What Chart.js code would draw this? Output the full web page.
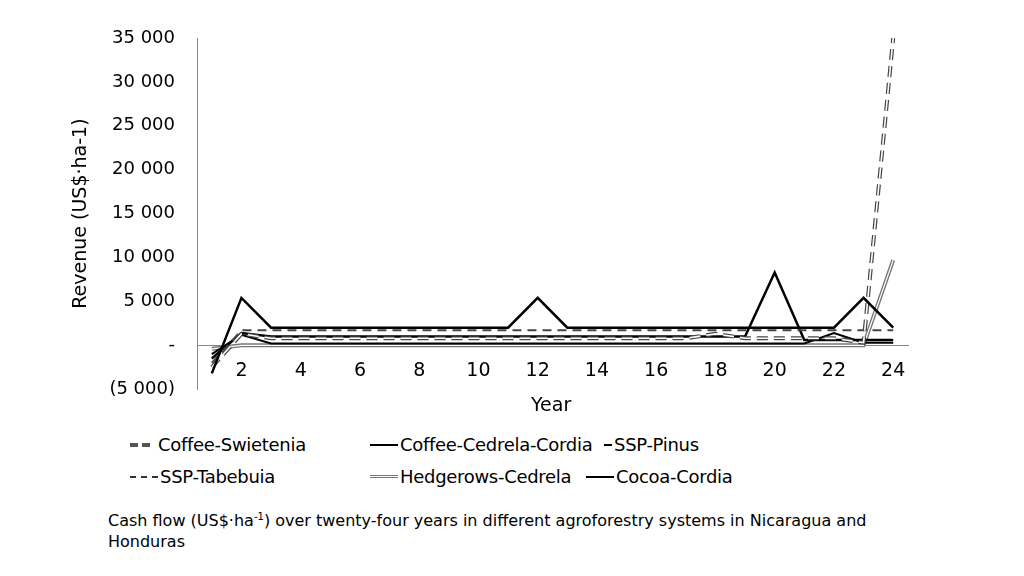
<!DOCTYPE html>
<html><head><meta charset="utf-8">
<script src="https://cdn.jsdelivr.net/npm/chart.js@4"></script>
<style>
body{margin:0;width:1024px;height:576px;background:#fff;font-family:"DejaVu Sans",Verdana,sans-serif;position:relative;overflow:hidden}
#wrap{position:absolute;left:70px;top:0;width:954px;height:414px}
.t{position:absolute;color:#000}
.lg{position:absolute;font-size:18px;display:flex;align-items:center;letter-spacing:-0.3px}
.sw{display:inline-block;width:28px;height:0;margin-right:2px}
</style></head><body>
<div id="wrap"><canvas id="c"></canvas></div>
<div class="t" style="left:531px;top:393px;font-size:19px">Year</div>
<div class="lg" style="left:130px;top:434px"><span class="sw" style="border-top:4px dashed #555;width:20px;margin-right:8px"></span>Coffee-Swietenia</div>
<div class="lg" style="left:370px;top:434px"><span class="sw" style="border-top:2px solid #000"></span>Coffee-Cedrela-Cordia</div>
<div class="lg" style="left:604px;top:434px"><span class="sw" style="border-top:2px solid #000;width:8px"></span>SSP-Pinus</div>
<div class="lg" style="left:130px;top:466px"><span class="sw" style="border-top:2px dashed #333"></span>SSP-Tabebuia</div>
<div class="lg" style="left:370px;top:466px"><span class="sw" style="border-top:3px double #777"></span>Hedgerows-Cedrela</div>
<div class="lg" style="left:586px;top:466px"><span class="sw" style="border-top:2px solid #000"></span>Cocoa-Cordia</div>
<div class="t" style="left:108px;top:506px;font-size:16px;line-height:21px;width:820px">Cash flow (US$·ha<sup style="font-size:10px">-1</sup>) over twenty-four years in different agroforestry systems in Nicaragua and Honduras</div>
<script>
const years = Array.from({length:24},(_, i)=>String(i+1));
const coffeeSwietenia = [-2500,1300,800,800,800,800,800,800,800,800,800,800,800,800,800,800,800,1300,800,800,800,800,300,35000];
const coffeeCedrelaCordia = [-3200,5400,2000,2000,2000,2000,2000,2000,2000,2000,2000,5400,2000,2000,2000,2000,2000,2000,2000,2000,2000,2000,5400,2000];
const sspPinus = [-1000,1200,200,200,200,200,200,200,200,200,200,200,200,200,200,200,200,200,200,200,200,1400,300,300];
const sspTabebuia = [-2000,1700,1700,1700,1700,1700,1700,1700,1700,1700,1700,1700,1700,1700,1700,1700,1700,1700,1700,1700,1700,1700,1700,1700];
const hedgerowsCedrela = [-400,0,0,0,0,0,0,0,0,0,0,0,0,0,0,0,0,0,0,0,0,0,0,9700];
const cocoaCordia = [-1500,1400,1000,1000,1000,1000,1000,1000,1000,1000,1000,1000,1000,1000,1000,1000,1000,1000,1000,8300,600,600,600,600];

// first dataset is painted last (on top)
const ds = (data,color,width,dash)=>({data,borderColor:color,borderWidth:width,borderDash:dash||[],pointRadius:0,fill:false,tension:0});
new Chart(document.getElementById('c'),{
  type:'line',
  data:{labels:years,datasets:[
    ds(coffeeCedrelaCordia,'#000',2.5),
    ds(coffeeSwietenia,'#fff',1.6,[11,6]),
    ds(coffeeSwietenia,'#444',4,[11,6]),
    ds(sspTabebuia,'#444',2,[9,6]),
    ds(cocoaCordia,'#000',2.5),
    ds(sspPinus,'#000',2),
    ds(hedgerowsCedrela,'#fff',1.2),
    ds(hedgerowsCedrela,'#777',4)
  ]},
  options:{
    responsive:true,maintainAspectRatio:false,animation:false,
    layout:{padding:{top:38,right:116,bottom:0,left:0}},
    plugins:{legend:{display:false},tooltip:{enabled:false}},
    scales:{
      x:{position:{y:0},offset:true,grid:{display:false,drawTicks:true},border:{color:'#888'},
        ticks:{color:'#000',font:{size:19,family:'DejaVu Sans'},maxRotation:0,autoSkip:false,padding:6,
          callback:(v,i)=>(i+1)%2===0?years[i]:''}},
      y:{min:-5000,max:35000,afterFit:s=>{s.width=127},
        grid:{display:false},border:{color:'#888'},
        ticks:{stepSize:5000,color:'#000',font:{size:18,family:'DejaVu Sans'},padding:14,
          callback:v=>v===0?'-':v<0?'('+Math.abs(v).toLocaleString('en').replace(',',' ')+')':v.toLocaleString('en').replace(',',' ')},
        title:{display:true,text:'Revenue (US$·ha-1)',color:'#000',font:{size:19,family:'DejaVu Sans'},padding:0}}
    }
  }
});
</script></body></html>
